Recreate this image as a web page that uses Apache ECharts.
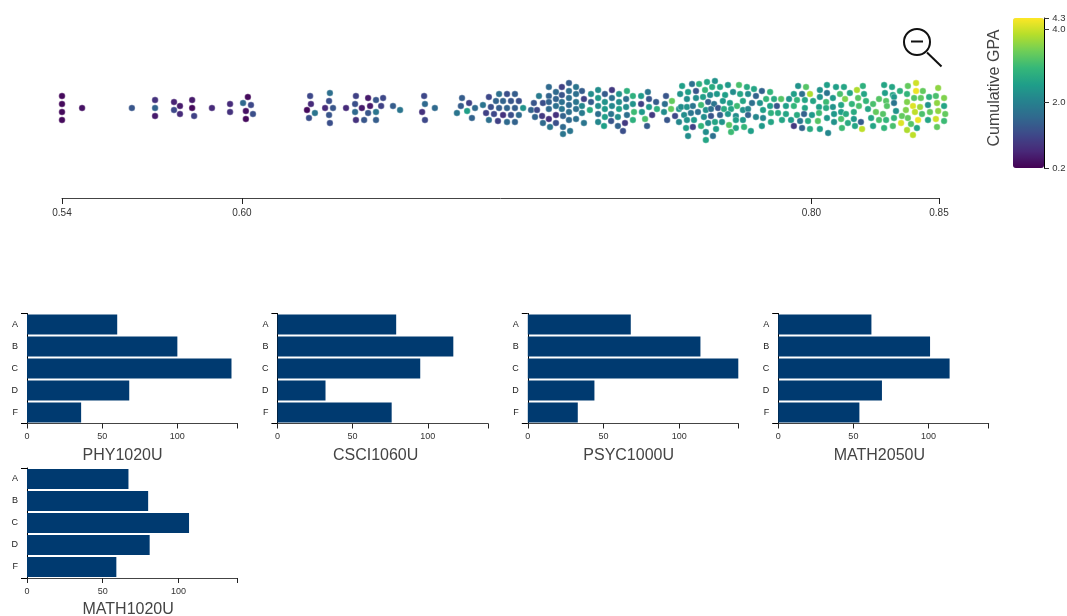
<!DOCTYPE html>
<html>
<head>
<meta charset="utf-8">
<title>Grades</title>
<script src="https://cdn.jsdelivr.net/npm/echarts@6/dist/echarts.min.js"></script>
<style>
  html, body { margin: 0; padding: 0; background: #fff; }
  #chart { width: 1067px; height: 616px; }
</style>
</head>
<body>
<div id="chart"></div>
<script>
// beeswarm: grade position, swarm offset and cumulative GPA of each student
const grades = [
  .5400,.5400,.5400,.5400,.5471,.5647,.5729,.5729,.5729,.5796,.5796,.5817,.5817,.5860,.5860,.5867,.5930,.5994,.5994,.6057,.6040,.6068,.6050,.6075,.6050,
  .6277,.6280,.6266,.6294,.6273,.6347,.6344,.6330,.6358,.6344,.6347,
  .6404,.6439,.6436,.6460,.6436,.6439,.6468,.6482,.6489,.6482,.6510,.6528,.6510,.6510,.6535,.6570,.6595,
  .6680,.6683,.6673,.6718,.6683,
  .6814,.6810,.6839,.6796,.6832,.6860,.6849,
  .6909,.6945,.6973,.7001,.6888,.6916,.6934,.6959,.6987,.7015,.6945,.6973,.7001,.7030,.6899,.6927,.6959,.6987,.7015,.6909,.6941,.6973,.7001,
  .7192,.7167,.7121,.7217,.7146,.7238,.7086,.7121,.7167,.7192,.7217,.7146,.7192,.7245,.7068,.7100,.7121,.7167,.7217,.7146,.7192,.7238,.7058,.7079,.7121,.7167,.7217,.7097,.7146,.7192,.7238,.7072,.7121,.7171,.7217,.7192,.7100,.7146,.7245,.7171,.7125,.7196,.7171,
  .7270,.7295,.7319,.7344,.7369,.7397,.7270,.7295,.7319,.7344,.7369,.7394,.7418,.7447,.7471,.7266,.7295,.7319,.7344,.7369,.7394,.7418,.7447,.7475,.7500,.7295,.7319,.7341,.7365,.7397,.7422,.7450,.7475,.7503,.7295,.7316,.7341,.7365,.7390,.7418,.7461,.7486,.7383,.7468,
  .7535,.7531,.7528,.7539,.7556,.7553,.7567,.7581,
  .7592,.7627,.7652,.7680,.7708,.7698,.7673,.7726,.7754,.7793,.7821,
  .7585,.7613,.7641,.7666,.7691,.7715,.7772,.7744,.7797,
  .7609,.7641,.7786,
  .7588,.7609,.7630,.7659,.7684,.7705,.7736,.7761,.7807,
  .7599,.7623,.7648,.7676,.7694,.7719,.7740,.7765,.7807,
  .7581,.7609,.7634,.7669,.7694,.7726,.7754,.7782,
  .7606,.7630,.7659,.7684,.7708,.7733,.7758,.7782,.7811,.7782,
  .7613,.7676,.7701,.7712,.7765,.7676,
  .7846,.8002,.8030,.8104,.8079,.8136,.8164,.8210,.8231,.8306,.8334,.8390,.8419,.8497,
  .7874,.7903,.7987,.8016,.8044,.8104,.8079,.8150,.8185,.8235,.8309,.8337,.8362,.8387,.8419,.8443,
  .7825,.7853,.7889,.7917,.7942,.7970,.7998,.8026,.8055,.8101,.8125,.8168,.8214,.8242,.8288,.8313,.8341,.8387,.8412,.8436,.8465,.8489,.8518,
  .7839,.7867,.7903,.7927,.7959,.7987,.8026,.8076,.8101,.8125,.8154,.8192,.8217,.8267,.8316,.8341,.8408,.8433,.8461,.8493,.8518,
  .7825,.7878,.7906,.7931,.7959,.7998,.8023,.8051,.8076,.8129,.8154,.8171,.8199,.8249,.8277,.8302,.8348,.8383,.8415,.8440,.8468,.8497,.8522,
  .7825,.7853,.7878,.7807,.7906,.7945,.7977,.8009,.8037,.8072,.8104,.8129,.8154,.8178,.8199,.8224,.8260,.8288,.8313,.8341,.8369,.8390,.8426,.8461,.8489,.8518,
  .7835,.7874,.7987,.8016,.8044,.8079,.8108,.8157,.8203,.8228,.8267,.8306,.8337,.8366,.8401,.8387,.8422,.8493,.8408
];
const offsets = [
  12,4,-4,-12,0,0,8,0,-8,6,-2,2,-6,8,0,-8,0,4,-4,11,5,3,-3,-6,-11,
  12,4,-2,-5,-10,15,7,0,0,-7,-15,
  0,12,4,0,-4,-12,-12,10,2,-5,8,2,-4,-12,10,2,-2,
  12,4,-4,0,-12,
  10,2,5,-5,-3,0,-10,
  11,14,14,14,3,1,7,7,7,7,0,0,0,0,-5,-6,-7,-7,-7,-12,-13,-14,-14,
  25,21,21,21,16,17,12,12,13,17,14,9,10,9,5,5,6,6,6,2,3,2,-2,-2,-1,-1,-1,-8,-7,-4,-5,-9,-11,-8,-11,-12,-15,-15,-15,-19,-19,-23,-26,
  14,18,14,18,14,17,6,10,6,10,6,9,12,12,16,-2,2,-1,2,-1,1,4,4,9,6,-6,-9,-6,-9,-7,-4,-4,1,-1,-14,-18,-13,-18,-15,-12,-11,-7,-23,-18,
  12,4,-4,-12,7,-1,-8,-1,
  22,24,24,26,27,21,18,21,23,23,21,
  14,16,17,11,13,14,16,13,14,
  9,10,2,
  1,1,2,3,6,4,7,5,7,
  -7,-5,-4,-2,-1,0,-1,-1,-2,
  -14,-12,-12,-9,-8,-7,-6,-8,
  -20,-19,-18,-15,-14,-14,-17,-12,-19,-20,
  -28,-24,-28,-21,-24,-32,
  19,22,21,23,18,21,21,18,22,23,21,22,25,20,
  17,16,14,14,14,15,11,14,15,14,15,13,17,14,17,17,
  14,12,9,9,9,9,8,8,7,6,10,9,10,7,9,7,11,6,10,10,11,12,10,
  5,5,2,2,2,2,0,1,0,1,3,4,2,4,2,5,2,1,3,5,2,
  -1,-2,-5,-5,-6,-7,-6,-7,-5,-6,-4,-6,-4,-1,-4,-6,-3,-2,-4,-6,-4,-3,-6,
  -7,-9,-10,-12,-14,-12,-12,-13,-13,-13,-10,-14,-11,-15,-11,-14,-10,-12,-12,-10,-8,-10,-12,-12,-11,-13,
  -23,-18,-18,-20,-21,-21,-25,-20,-18,-21,-18,-20,-18,-15,-16,-22,-20,-19,-27
];
const gpas = [
  .3,.3,.3,.3,.4,1.3,.8,1.5,.5,.6,1.1,.5,.7,.5,.3,1.0,.7,.7,.8,.3,1.6,1.1,.4,1.2,.3,
  1.1,.7,.3,1.8,1.2,1.7,1.2,.7,1.3,1.3,1.2,
  .7,1.0,1.2,.5,1.6,.8,1.3,.5,.5,1.3,1.3,1.0,1.8,1.4,1.1,1.4,1.8,
  1.1,1.6,.8,1.6,1.1,
  1.4,1.4,1.0,1.8,2.5,1.6,1.5,
  1.1,1.7,1.2,1.4,1.8,1.2,1.5,1.5,1.3,1.2,1.4,1.5,1.4,2.3,1.0,1.1,.8,1.2,1.6,1.7,1.0,1.6,1.5,
  1.4,1.0,1.6,1.8,1.6,1.4,1.9,1.5,1.3,1.7,1.7,1.5,1.7,1.0,1.3,1.2,1.5,1.7,1.8,1.7,1.6,2.1,1.5,1.1,1.6,1.8,1.7,.9,.8,1.7,1.9,1.5,.8,1.5,1.7,1.6,1.6,1.2,1.8,1.6,1.8,1.8,1.8,
  2.2,2.2,1.4,.9,2.3,2.8,1.4,2.4,2.3,1.7,2.2,1.7,2.8,2.4,1.8,2.7,2.2,2.4,2.1,2.5,2.2,2.3,1.0,1.3,1.4,1.7,2.5,1.8,2.2,1.7,3.0,2.4,2.4,2.8,2.1,2.5,1.3,1.5,.9,2.8,3.1,.9,1.2,1.4,
  1.3,1.7,2.2,1.3,3.3,3.3,1.1,2.3,
  2.5,1.7,2.8,2.6,2.3,2.7,2.9,2.6,2.4,3.1,2.7,
  2.3,2.5,1.3,2.5,2.2,2.4,2.2,2.5,2.6,
  2.2,2.2,3.0,
  2.2,2.3,1.8,3.0,1.5,1.8,2.4,2.5,2.6,
  2.2,1.8,1.7,2.3,1.7,1.3,2.7,2.6,2.3,
  2.1,2.3,2.4,2.2,1.3,1.5,2.4,2.2,
  2.5,1.0,2.9,2.2,2.6,2.3,3.2,2.5,2.9,2.6,
  2.2,2.2,1.7,2.5,3.0,2.6,
  2.6,2.3,3.2,2.5,2.3,2.5,2.6,3.8,2.8,2.6,2.6,3.3,4.0,3.6,
  1.5,2.9,2.5,1.7,3.8,1.8,2.3,3.1,2.6,2.6,2.5,2.6,2.8,2.9,4.2,3.3,
  2.2,1.5,2.9,2.7,3.2,2.3,2.9,2.6,2.6,3.0,2.4,3.5,3.2,2.9,3.2,3.2,2.4,3.5,3.2,3.3,2.8,3.1,3.5,
  1.7,2.3,2.5,1.3,2.5,2.9,2.6,2.5,2.7,2.3,2.6,2.9,3.1,3.1,3.2,1.8,4.1,3.7,2.3,3.6,2.6,
  2.1,2.5,2.8,2.7,2.6,2.7,1.5,2.4,3.0,2.4,2.5,2.7,2.7,2.6,3.3,3.2,2.3,3.5,3.9,3.1,3.3,3.6,3.3,
  1.5,2.1,2.1,2.4,2.6,2.6,2.4,1.8,2.7,3.2,2.4,2.3,3.1,2.7,2.4,1.4,2.6,3.1,2.9,2.9,3.3,3.3,4.2,2.6,4.0,3.0,
  2.5,2.4,.9,1.5,2.7,2.5,2.1,3.0,2.6,3.9,2.6,2.9,3.1,4.1,3.2,3.8,2.6,3.3,3.9
];
const gradeTicks = [0.54, 0.6036, 0.8049, 0.85];
const gpaTicks = [0.2, 2.0, 4.0, 4.3];
const viridis = ['#440154','#482878','#3e4989','#31688e','#26828e','#1f9e89','#35b779','#6ece58','#b5de2b','#fde725'];

// bar charts, students per letter grade
const letters = ['A', 'B', 'C', 'D', 'F'];
const courses = ['PHY1020U', 'CSCI1060U', 'PSYC1000U', 'MATH2050U', 'MATH1020U'];
const phy1020 = [60, 100, 136, 68, 36];
const csci1060 = [79, 117, 95, 32, 76];
const psyc1000 = [68, 114, 139, 44, 33];
const math2050 = [62, 101, 114, 69, 54];
const math1020 = [67, 80, 107, 81, 59];
const courseValues = [phy1020, csci1060, psyc1000, math2050, math1020];
const courseMax = [140, 140, 139, 140, 139];
const barTicks = [0, 50, 100];

const fonte = '"Liberation Sans", Arial, sans-serif';
const corEixo = '#444';

const myChart = echarts.init(document.getElementById('chart'));

const grid = [
  { left: 62, top: 18, width: 877, height: 180 },   // swarm
  { left: 1044, top: 18, width: 1, height: 150 }    // colour bar axis
];
const xAxis = [
  {
    gridIndex: 0, type: 'value', min: 0.54, max: 0.85,
    axisLine: { onZero: false, lineStyle: { color: corEixo } },
    axisTick: { length: 6, lineStyle: { color: '#222' }, customValues: gradeTicks },
    axisLabel: {
      customValues: gradeTicks, fontFamily: fonte, fontSize: 10, color: '#333', margin: 10,
      formatter: v => v.toFixed(2)
    },
    splitLine: { show: false }
  },
  { gridIndex: 1, type: 'value', show: false }
];
const yAxis = [
  { gridIndex: 0, type: 'value', min: -90, max: 90, show: false },
  {
    gridIndex: 1, type: 'value', position: 'right', min: 0.2, max: 4.3,
    axisLine: { show: true, lineStyle: { color: '#000' } },
    axisTick: { length: 5, lineStyle: { color: '#333' }, customValues: gpaTicks },
    axisLabel: {
      customValues: gpaTicks, fontFamily: fonte, fontSize: 9.5, color: '#333', margin: 8,
      hideOverlap: false, formatter: v => v.toFixed(1)
    },
    splitLine: { show: false }
  }
];
const series = [
  {
    type: 'scatter',
    xAxisIndex: 0, yAxisIndex: 0,
    clip: false,
    symbolSize: 6.5,
    itemStyle: { opacity: 1, borderColor: 'rgba(255,255,255,0.7)', borderWidth: 0.5 },
    data: grades.map((g, i) => [g, offsets[i], gpas[i]])
  }
];
const title = [];

// one small chart per course, four in a row
courses.forEach((nome, i) => {
  const idx = grid.length;
  const coluna = i % 4;
  const linha = Math.floor(i / 4);
  const esquerda = 27 + coluna * 250.4;
  const topo = 313.5 + linha * 154.5;
  grid.push({ left: esquerda, top: topo, width: 210.5, height: 110 });
  // the course name starts at a fixed distance from the axis, it is not centred
  title.push({
    text: nome, left: esquerda + 55.5, top: topo + 134, padding: 0,
    textStyle: { fontFamily: fonte, fontSize: 16, fontWeight: 'normal', color: '#444' }
  });
  xAxis.push({
    gridIndex: idx, type: 'value', min: 0, max: courseMax[i],
    axisLine: { lineStyle: { color: corEixo } },
    axisTick: { length: 5, lineStyle: { color: '#222' }, customValues: barTicks.concat(courseMax[i]) },
    axisLabel: { customValues: barTicks, fontFamily: fonte, fontSize: 9, color: '#333', margin: 9 },
    splitLine: { show: false }
  });
  yAxis.push({
    gridIndex: idx, type: 'category', data: letters, inverse: true,
    axisLine: { lineStyle: { color: '#000' } },
    axisTick: { length: 6, alignWithLabel: true, lineStyle: { color: '#555' } },
    axisLabel: { fontFamily: fonte, fontSize: 9, color: '#222', margin: 9 }
  });
  series.push({
    type: 'bar',
    xAxisIndex: idx, yAxisIndex: yAxis.length - 1,
    data: courseValues[i],
    barCategoryGap: '10%',
    itemStyle: { color: '#003a70' },
    silent: true
  });
  // second axis only for the d3 style end ticks on the left
  yAxis.push({
    gridIndex: idx, type: 'value', position: 'left', min: 0, max: 1,
    axisLine: { show: false },
    axisTick: { show: true, length: 6, lineStyle: { color: '#000' }, customValues: [0, 1] },
    axisLabel: { show: false },
    splitLine: { show: false }
  });
});

const option = {
  animation: false,
  backgroundColor: '#fff',
  textStyle: { fontFamily: fonte },
  title, grid, xAxis, yAxis, series,
  visualMap: {
    type: 'continuous',
    seriesIndex: 0,
    dimension: 2,
    min: 0.2,
    max: 4.3,
    calculable: false,
    hoverLink: false,
    left: 1013,
    top: 18,
    padding: 0,
    itemWidth: 31,
    itemHeight: 150,
    text: null,
    inRange: { color: viridis }
  },
  graphic: [
    {
      type: 'text', x: 995, y: 88, rotation: Math.PI / 2, silent: true,
      style: { text: 'Cumulative GPA', font: '16px ' + fonte, fill: '#444', align: 'center', verticalAlign: 'middle' }
    },
    // zoom out button
    { type: 'circle', shape: { cx: 917, cy: 42, r: 13 }, style: { fill: 'none', stroke: '#111', lineWidth: 2 } },
    { type: 'line', shape: { x1: 911, y1: 41.5, x2: 923, y2: 41.5 }, style: { stroke: '#111', lineWidth: 2 } },
    { type: 'line', shape: { x1: 927, y1: 52.5, x2: 941.5, y2: 66.5 }, style: { stroke: '#111', lineWidth: 2 } }
  ]
};

myChart.setOption(option, true);
</script>
</body>
</html>
